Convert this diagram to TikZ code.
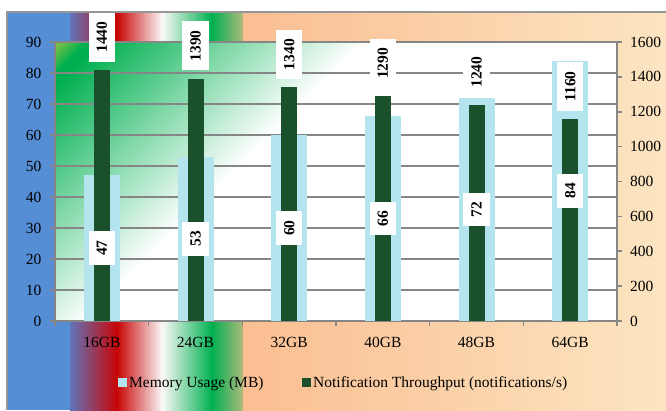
\documentclass[tikz,border=0pt]{standalone}
\usepackage{fontspec}
\setmainfont{Liberation Serif}
\usepackage{tikz}
\definecolor{bg-blue}{RGB}{85,142,213}
\definecolor{bg-purple}{RGB}{98,115,185}
\definecolor{bg-plum}{RGB}{135,65,115}
\definecolor{bg-red}{RGB}{200,5,5}
\definecolor{bg-white}{RGB}{250,248,247}
\definecolor{bg-green}{RGB}{0,176,80}
\definecolor{bg-olive}{RGB}{175,185,125}
\definecolor{bg-peach}{RGB}{250,190,145}
\definecolor{bg-cream}{RGB}{252,229,194}
\definecolor{frame-grey}{RGB}{150,150,150}
\definecolor{axis-grey}{RGB}{134,134,134}
\definecolor{pf-corner}{RGB}{120,192,70}
\definecolor{pf-green}{RGB}{0,176,80}
\definecolor{mem-blue}{RGB}{180,229,239}
\definecolor{thr-green}{RGB}{26,80,44}
\pgfdeclarehorizontalshading{plotfade}{100bp}{color(0bp)=(pf-corner); color(23.7bp)=(pf-corner); color(25.3bp)=(pf-green); color(26.2bp)=(pf-green); color(42.9bp)=(white); color(100bp)=(white)}
\newcommand{\chartsize}{\fontsize{15.5pt}{18pt}\selectfont}
\tikzstyle{gridline}=[draw=axis-grey, line width=1.6pt]
\tikzstyle{memory}=[fill=mem-blue]
\tikzstyle{throughput}=[fill=thr-green]
\tikzstyle{valbox}=[fill=white, rotate=90, inner xsep=9pt, inner ysep=8pt, font=\chartsize\bfseries]
\newcommand{\gbBars}[4]{
	\pgfmathsetmacro{\memTop}{321-#2*3.1}
	\pgfmathsetmacro{\thrTop}{321-#3/1600*279}
	\fill[memory] (#1-18,321) rectangle (#1+18,\memTop);
	\fill[throughput] (#1-8,321) rectangle (#1+8,\thrTop);
	\node[valbox] (mem#4) at (#1,{(321+\memTop)/2}) {#2};
	\node[valbox,anchor=west] (thr#4) at (#1,\thrTop-8) {#3};
	\node (cat#4) at (#1,342) {#4GB};
}

\begin{document}
\begin{tikzpicture}[x=1pt,y=-1pt,font=\chartsize]
	\useasboundingbox (0,0) rectangle (666,410);
	\fill[white] (0,0) rectangle (666,410);
	% chart area bands
	\fill[bg-blue] (7,12) rectangle (70,410);
	\shade[left color=bg-purple, middle color=bg-plum, right color=bg-red] (70,12) rectangle (117,410);
	\shade[left color=bg-red, right color=bg-white] (117,12) rectangle (162,410);
	\shade[left color=bg-white, right color=bg-green] (162,12) rectangle (212,410);
	\shade[left color=bg-green, right color=bg-olive] (212,12) rectangle (243,410);
	\shade[left color=bg-peach, right color=bg-cream] (243,12) rectangle (666,410);
	\draw[frame-grey, line width=1.2pt] (666,12) -- (7,12) -- (7,410);
	% plot area
	\fill[white] (55,42) rectangle (617,321);
	\begin{scope}
		\clip (55,42) rectangle (617,321);
		\shade[shading=plotfade, shading angle=-45] (55,-99) rectangle (617,463);
	\end{scope}
	\foreach \v in {10,20,...,90}
		\draw[gridline] (50,{321-\v*3.1}) -- (617,{321-\v*3.1});
	\draw[gridline] (55,42) -- (55,321) -- (617,321);
	\draw[gridline] (617,42) -- (617,321);
	\draw[gridline] (50,321) -- (55,321);
	\foreach \i in {0,...,6}
		\draw[gridline] ({55+\i*93.667},321) -- ({55+\i*93.667},326);
	\foreach \v in {0,200,...,1600}
		\draw[gridline] (617,{321-\v*0.174375}) -- (622,{321-\v*0.174375});
	% bars
	\gbBars{101.83}{47}{1440}{16}
	\gbBars{195.5}{53}{1390}{24}
	\gbBars{289.17}{60}{1340}{32}
	\gbBars{382.83}{66}{1290}{40}
	\gbBars{476.5}{72}{1240}{48}
	\gbBars{570.17}{84}{1160}{64}
	% axis labels
	\foreach \v in {0,10,...,90}
		\node[anchor=east, inner sep=2.5pt] (left\v) at (44,{321-\v*3.1}) {\v};
	\foreach \v in {0,200,...,1600}
		\node[anchor=west, inner sep=3pt] (right\v) at (627,{321-\v*0.174375}) {\v};
	% legend
	\fill[memory] (118,378) rectangle (127,387);
	\node[anchor=base west, inner sep=2pt] (legmem) at (127,387) {Memory Usage (MB)};
	\fill[throughput] (302,378) rectangle (311,387);
	\node[anchor=base west, inner sep=2pt] (legthr) at (311,387) {Notification Throughput (notifications/s)};
\end{tikzpicture}
\end{document}
